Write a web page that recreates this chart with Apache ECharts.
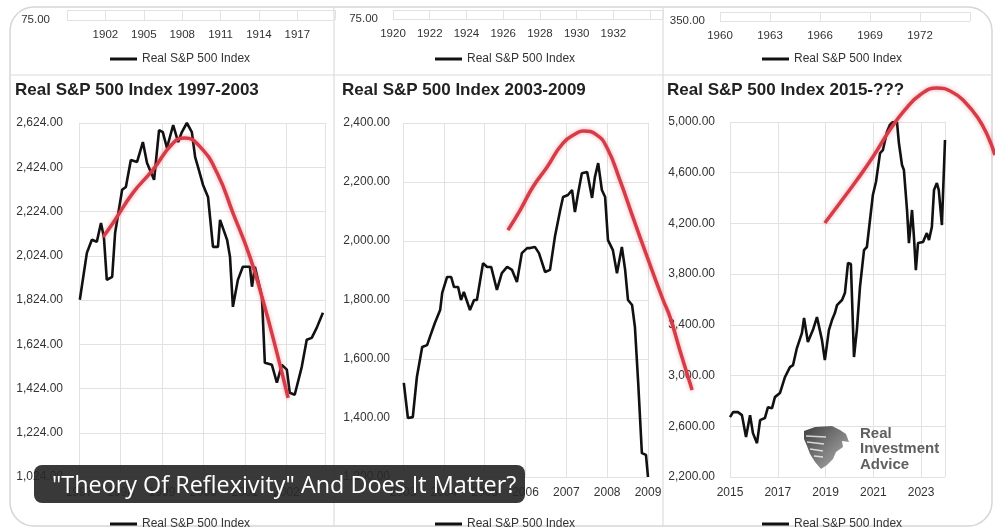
<!DOCTYPE html>
<html><head><meta charset="utf-8">
<script src="https://cdn.jsdelivr.net/npm/echarts/dist/echarts.min.js"></script>
<style>html,body{margin:0;padding:0;background:#fff;}#c{width:995px;height:528px;}</style>
</head><body><div id="c"></div>
<script>
const seriesName = 'Real S&P 500 Index';
const trendName = 'Trend';
const titles = ['Real S&P 500 Index 1997-2003', 'Real S&P 500 Index 2003-2009', 'Real S&P 500 Index 2015-???'];
const captionText = '"Theory Of Reflexivity" And Does It Matter?';
const logoText = 'Real\nInvestment\nAdvice';

const strip1Ticks = [1902, 1905, 1908, 1911, 1914, 1917];
const strip2Ticks = [1920, 1922, 1924, 1926, 1928, 1930, 1932];
const strip3Ticks = [1960, 1963, 1966, 1969, 1972];
const stripMinLabels = [75, 75, 350];

const p1Years = [1997.02,1997.19,1997.31,1997.43,1997.53,1997.60,1997.67,1997.80,1997.87,1998.04,1998.13,1998.25,1998.40,1998.54,1998.64,1998.81,1998.93,1999.02,1999.12,1999.27,1999.39,1999.48,1999.60,1999.72,1999.80,1999.87,1999.99,2000.11,2000.23,2000.35,2000.40,2000.57,2000.64,2000.71,2000.83,2000.95,2001.12,2001.17,2001.24,2001.41,2001.48,2001.65,2001.77,2001.89,2002.01,2002.08,2002.20,2002.37,2002.49,2002.61,2002.73,2002.88];
const p1Values = [1825,2037,2096,2087,2172,2109,1915,1929,2127,2322,2335,2457,2448,2538,2443,2367,2592,2583,2511,2615,2538,2583,2624,2583,2470,2425,2344,2290,2064,2064,2186,2096,2019,1793,1915,1974,1974,1884,1974,1838,1540,1531,1450,1531,1509,1405,1396,1522,1644,1653,1698,1766];
const p1TrendYears = [1997.58,1997.82,1998.30,1998.78,1999.27,1999.55,1999.92,2000.33,2000.71,2001.12,2001.43,2001.77,2002.04];
const p1TrendValues = [2109,2172,2308,2412,2534,2556,2516,2398,2218,2019,1825,1586,1382];

const p2Years = [2003.02,2003.12,2003.24,2003.34,2003.47,2003.59,2003.66,2003.78,2003.91,2003.96,2004.08,2004.18,2004.25,2004.35,2004.42,2004.49,2004.64,2004.74,2004.81,2004.96,2005.06,2005.16,2005.30,2005.42,2005.55,2005.67,2005.79,2005.91,2006.04,2006.11,2006.23,2006.33,2006.48,2006.60,2006.72,2006.85,2006.92,2007.04,2007.14,2007.21,2007.29,2007.38,2007.51,2007.63,2007.70,2007.78,2007.87,2007.95,2008.02,2008.14,2008.24,2008.36,2008.44,2008.51,2008.61,2008.68,2008.76,2008.85,2008.95,2009.00];
const p2Values = [1519,1400,1403,1539,1641,1647,1675,1722,1766,1824,1878,1878,1844,1844,1800,1827,1766,1800,1800,1925,1912,1912,1834,1891,1912,1902,1861,1959,1976,1976,1980,1959,1895,1902,2014,2105,2149,2156,2173,2098,2163,2230,2234,2146,2217,2264,2173,2149,2003,1969,1891,1980,1902,1800,1783,1708,1519,1281,1275,1200];
const p2TrendYears = [2005.57,2005.87,2006.18,2006.53,2006.92,2007.26,2007.41,2007.75,2008.00,2008.31,2008.63,2008.98,2009.37,2009.54,2009.78,2010.08];
const p2TrendValues = [2037,2105,2183,2251,2332,2366,2373,2359,2315,2207,2081,1946,1800,1742,1630,1495];

const p3Years = [2015.00,2015.13,2015.33,2015.50,2015.67,2015.84,2015.96,2016.13,2016.26,2016.46,2016.59,2016.76,2016.88,2017.09,2017.30,2017.51,2017.64,2017.80,2018.01,2018.10,2018.26,2018.47,2018.64,2018.85,2018.97,2019.14,2019.27,2019.39,2019.48,2019.69,2019.81,2019.94,2020.06,2020.19,2020.31,2020.44,2020.61,2020.73,2020.86,2020.98,2021.11,2021.28,2021.40,2021.57,2021.69,2021.82,2021.99,2022.07,2022.20,2022.28,2022.41,2022.49,2022.62,2022.70,2022.78,2022.87,2023.08,2023.24,2023.33,2023.45,2023.54,2023.66,2023.74,2023.87,2024.00];
const p3Values = [2672,2712,2712,2688,2515,2688,2546,2467,2649,2665,2751,2743,2830,2862,2988,3067,3083,3217,3335,3454,3264,3359,3461,3280,3122,3359,3438,3493,3556,3596,3651,3888,3880,3146,3359,3698,3990,4014,4227,4424,4527,4755,4779,4921,4976,5000,5000,4834,4661,4621,4306,4045,4306,4093,3832,4045,4053,4124,4069,4172,4463,4519,4463,4187,4858];
const p3TrendYears = [2018.97,2019.60,2020.31,2020.98,2021.69,2022.32,2022.95,2023.66,2024.29,2024.83,2025.38,2025.79,2026.09];
const p3TrendValues = [4203,4361,4542,4724,4937,5095,5213,5268,5237,5158,5032,4890,4740];

const FONT = 'Liberation Sans, Arial, sans-serif';
function zip(a, b) { return a.map((x, i) => [x, b[i]]); }
function fmt2(v) {
  const s = Number(v).toFixed(2); const parts = s.split('.');
  return parts[0].replace(/\B(?=(\d{3})+(?!\d))/g, ',') + '.' + parts[1];
}
const gridColor = '#e2e2e2';

const P2 = { left: 403, top: 123, width: 245, height: 354, xmin: 2003, xmax: 2009, ymin: 1200, ymax: 2400 };
const P3 = { left: 730, top: 122, width: 215, height: 355, xmin: 2015, xmax: 2024, ymin: 2200, ymax: 5000 };
// overlay grids (same scale, larger area) so the hand-drawn trend arcs can run past the plot edges
const O2 = { left: P2.left, top: P2.top, width: 297, height: P2.height };
const O3 = { left: P3.left, top: 72, width: 265, height: 405 };
const o2xmax = P2.xmin + O2.width * (P2.xmax - P2.xmin) / P2.width;
const o3xmax = P3.xmin + O3.width * (P3.xmax - P3.xmin) / P3.width;
const o3ymax = P3.ymin + O3.height * (P3.ymax - P3.ymin) / P3.height;

const grids = [
  { left: 67, top: 10, width: 268, height: 10 },
  { left: 393, top: 10, width: 270, height: 9 },
  { left: 720, top: 12, width: 250, height: 9 },
  { left: 79, top: 123, width: 246, height: 354 },
  { left: P2.left, top: P2.top, width: P2.width, height: P2.height },
  { left: P3.left, top: P3.top, width: P3.width, height: P3.height },
  { left: O2.left, top: O2.top, width: O2.width, height: O2.height },
  { left: O3.left, top: O3.top, width: O3.width, height: O3.height }
];

function stripX(idx, min, max, interval, ticks) {
  return {
    type: 'value', gridIndex: idx, min: min, max: max, interval: interval,
    axisLine: { show: false }, axisTick: { show: false },
    splitLine: { show: true, lineStyle: { color: gridColor, width: 1 } },
    axisLabel: { margin: 9, fontSize: 11.5, color: '#333', fontFamily: FONT,
      showMinLabel: true, showMaxLabel: true,
      formatter: v => (ticks.indexOf(Math.round(v)) >= 0 && Math.abs(v - Math.round(v)) < 1e-6) ? String(Math.round(v)) : '' }
  };
}
function stripY(idx, min, interval, margin) {
  return {
    type: 'value', gridIndex: idx, min: min, max: min + interval, interval: interval,
    axisLine: { show: false }, axisTick: { show: false },
    splitLine: { show: true, lineStyle: { color: gridColor, width: 1 } },
    axisLabel: { margin: margin, fontSize: 11.5, color: '#333', fontFamily: FONT, showMaxLabel: false,
      formatter: v => (Math.abs(v - min) < 1e-6 ? fmt2(v) : '') }
  };
}
function mainX(idx, min, max, interval) {
  return {
    type: 'value', gridIndex: idx, min: min, max: max, interval: interval,
    axisLine: { show: false }, axisTick: { show: false },
    splitLine: { show: true, lineStyle: { color: gridColor, width: 1 } },
    axisLabel: { margin: 10, fontSize: 12, color: '#333', fontFamily: FONT,
      showMinLabel: true, showMaxLabel: true,
      formatter: v => (Math.abs(v - Math.round(v)) < 1e-6 && (Math.round(v) - min) % interval === 0) ? String(Math.round(v)) : '' }
  };
}
function mainY(idx, min, max, interval, margin) {
  return {
    type: 'value', gridIndex: idx, min: min, max: max, interval: interval,
    axisLine: { show: false }, axisTick: { show: false },
    splitLine: { show: true, lineStyle: { color: gridColor, width: 1 } },
    axisLabel: { margin: margin, fontSize: 12, color: '#333', fontFamily: FONT, formatter: v => fmt2(v) }
  };
}
function hiddenAxis(idx, min, max) {
  return { type: 'value', gridIndex: idx, min: min, max: max, show: false, splitLine: { show: false } };
}

const xAxes = [
  stripX(0, 1899, 1919.94, 3, strip1Ticks),
  stripX(1, 1920, 1934.7, 2, strip2Ticks),
  stripX(2, 1960, 1975, 3, strip3Ticks),
  mainX(3, 1997, 2002.93, 1),
  mainX(4, P2.xmin, P2.xmax, 1),
  mainX(5, P3.xmin, P3.xmax, 2),
  hiddenAxis(6, P2.xmin, o2xmax),
  hiddenAxis(7, P3.xmin, o3xmax)
];
const yAxes = [
  stripY(0, stripMinLabels[0], 25, 17),
  stripY(1, stripMinLabels[1], 25, 15),
  stripY(2, stripMinLabels[2], 50, 15),
  mainY(3, 1024, 2624, 200, 16),
  mainY(4, P2.ymin, P2.ymax, 200, 13),
  mainY(5, P3.ymin, P3.ymax, 400, 15),
  hiddenAxis(6, P2.ymin, P2.ymax),
  hiddenAxis(7, P3.ymin, o3ymax)
];

function blackSeries(idx, years, vals) {
  return { name: seriesName, type: 'line', xAxisIndex: idx, yAxisIndex: idx, data: zip(years, vals),
    symbol: 'none', lineStyle: { color: '#111', width: 2.6 }, itemStyle: { color: '#111' }, z: 3 };
}
function redSeries(idx, years, vals) {
  return { name: trendName, type: 'line', xAxisIndex: idx, yAxisIndex: idx, data: zip(years, vals),
    symbol: 'none', smooth: 0.5, clip: false,
    lineStyle: { color: '#d63c48', width: 3.5, shadowBlur: 4, shadowColor: 'rgba(220,58,69,0.45)' },
    itemStyle: { color: '#d63c48' }, z: 4 };
}
function emptyStrip(idx) {
  return { name: seriesName, type: 'line', xAxisIndex: idx, yAxisIndex: idx, data: [], symbol: 'none',
    lineStyle: { color: '#111', width: 2.6 }, itemStyle: { color: '#111' } };
}

const series = [
  emptyStrip(0), emptyStrip(1), emptyStrip(2),
  blackSeries(3, p1Years, p1Values), redSeries(3, p1TrendYears, p1TrendValues),
  blackSeries(4, p2Years, p2Values), redSeries(6, p2TrendYears, p2TrendValues),
  blackSeries(5, p3Years, p3Values), redSeries(7, p3TrendYears, p3TrendValues)
];

const legendLefts = [105, 430, 757];
const legends = [];
[48, 513].forEach(top => {
  legendLefts.forEach(left => {
    legends.push({ data: [seriesName], left: left, top: top, orient: 'horizontal', itemWidth: 27, itemHeight: 3, itemGap: 5,
      icon: 'rect', selectedMode: false,
      itemStyle: { color: '#111' },
      textStyle: { fontSize: 12, color: '#333', fontFamily: FONT } });
  });
});

const titleLefts = [15, 342, 667];
const titleComps = titles.map((t, i) => ({ text: t, left: titleLefts[i], top: 82, padding: 0,
  textStyle: { fontSize: 17, fontWeight: 'bold', color: '#222', fontFamily: FONT } }));

const eaglePts = [[804,431],[815,427],[832,426],[840,430],[846,434],[849,442],[842,441],[843,447],[836,452],[833,459],[827,465],[821,469],[815,462],[810,454],[807,446],[804,439]];
const graphics = [
  { type: 'rect', z: 0, silent: true, shape: { x: 10, y: 7, width: 982, height: 519, r: 24 }, style: { fill: 'none', stroke: '#d6d6d6', lineWidth: 1.5 } },
  { type: 'line', z: 0, silent: true, shape: { x1: 11, y1: 75, x2: 991, y2: 75 }, style: { stroke: '#dcdcdc', lineWidth: 1.2 } },
  { type: 'line', z: 0, silent: true, shape: { x1: 334, y1: 7, x2: 334, y2: 526 }, style: { stroke: '#dcdcdc', lineWidth: 1.2 } },
  { type: 'line', z: 0, silent: true, shape: { x1: 663, y1: 7, x2: 663, y2: 526 }, style: { stroke: '#dcdcdc', lineWidth: 1.2 } },
  { type: 'polygon', z: 5, silent: true, shape: { points: eaglePts },
    style: { fill: { type: 'linear', x: 0, y: 0, x2: 1, y2: 1, colorStops: [{ offset: 0, color: '#3f3f3f' }, { offset: 1, color: '#b5b5b5' }] } } },
  { type: 'polyline', z: 6, silent: true, shape: { points: [[806,436],[826,437]] }, style: { stroke: 'rgba(255,255,255,0.75)', lineWidth: 1.3, fill: null } },
  { type: 'polyline', z: 6, silent: true, shape: { points: [[807,442],[824,444]] }, style: { stroke: 'rgba(255,255,255,0.75)', lineWidth: 1.3, fill: null } },
  { type: 'polyline', z: 6, silent: true, shape: { points: [[810,449],[823,451]] }, style: { stroke: 'rgba(255,255,255,0.75)', lineWidth: 1.3, fill: null } },
  { type: 'polyline', z: 6, silent: true, shape: { points: [[814,456],[823,457]] }, style: { stroke: 'rgba(255,255,255,0.75)', lineWidth: 1.3, fill: null } },
  { type: 'text', z: 5, silent: true, style: { x: 860, y: 426, text: logoText, fontSize: 15, fontWeight: 'bold', fontFamily: FONT, fill: '#5f5f5f', lineHeight: 15.5, verticalAlign: 'top' } },
  { type: 'rect', z: 100, silent: true, shape: { x: 34, y: 465, width: 491, height: 38, r: 8 }, style: { fill: 'rgba(40,40,40,0.92)' } },
  { type: 'text', z: 101, silent: true, style: { x: 52, y: 486, text: captionText, fontSize: 23.4, fontFamily: 'Open Sans, sans-serif', fill: '#ffffff', verticalAlign: 'middle' } }
];

const chart = echarts.init(document.getElementById('c'), null, { renderer: 'canvas' });
chart.setOption({
  animation: false,
  backgroundColor: '#ffffff',
  title: titleComps,
  legend: legends,
  grid: grids,
  xAxis: xAxes,
  yAxis: yAxes,
  series: series,
  graphic: { elements: graphics }
});
</script></body></html>
